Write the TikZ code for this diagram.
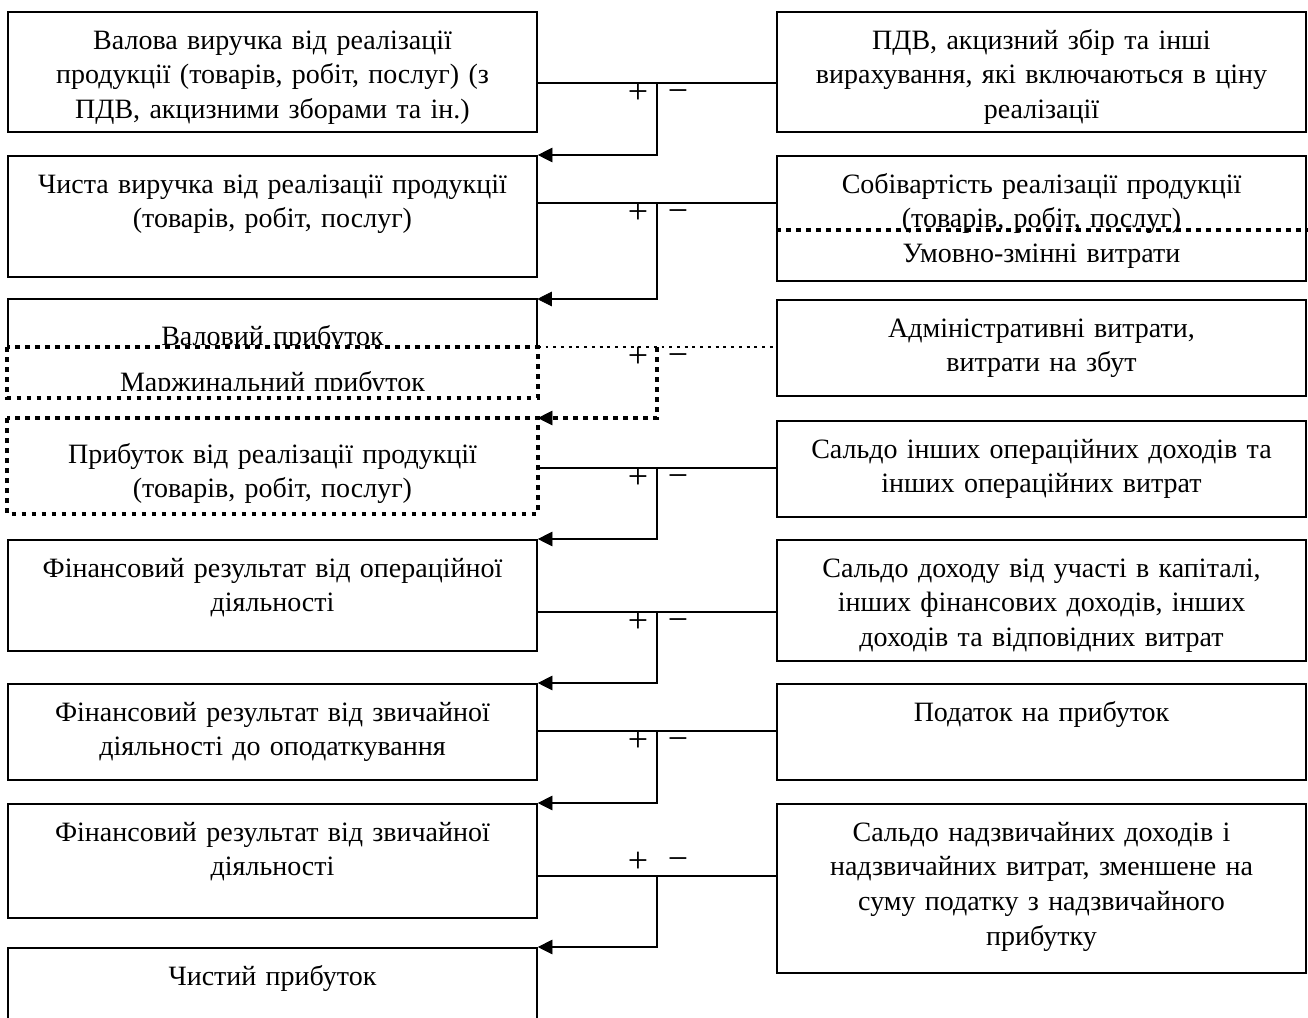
\documentclass[tikz,border=0pt]{standalone}
\usepackage{fontspec}
\setmainfont{Liberation Serif}
\usetikzlibrary{arrows.meta}
\newcommand\fstrut{\rule{0pt}{20pt}}
\begin{document}
\begin{tikzpicture}[x=0.75pt,y=-0.75pt,
  bx/.style={draw, line width=1.2pt, minimum width=396.75pt, inner sep=0pt, anchor=north},
  tx/.style={anchor=north, inner sep=0pt, align=center, text width=396pt, font=\fontsize{21}{26}\selectfont},
  thickdot/.style={line width=3pt, dash pattern=on 3.4pt off 4.1pt},
  finedot/.style={line width=2pt, dash pattern=on 2.2pt off 3.6pt},
  conn/.style={line width=1.2pt},
  arr/.style={-{Triangle[length=11pt,width=11pt,line width=0.6pt]}},
  pm/.style={inner sep=0pt, font=\fontsize{27}{30}\selectfont}]
\useasboundingbox (0,0) rectangle (1308,1017);
\clip (0,0) rectangle (1308,1017);

% ---------- row 1
\node[bx, minimum height=90pt] (L1) at (272.5,11) {};
\node[tx] (L1t) at (272.5,22.3) {\fstrut Валова виручка від реалізації\\продукції (товарів, робіт, послуг) (з\\ПДВ, акцизними зборами та ін.)};
\node[bx, minimum height=90pt] (R1) at (1041.5,11) {};
\node[tx] (R1t) at (1041.5,22.3) {\fstrut ПДВ, акцизний збір та інші\\вирахування, які включаються в ціну\\реалізації};

% ---------- row 2
\node[bx, minimum height=90.75pt] (L2) at (272.5,155) {};
\node[tx] (L2t) at (272.5,166.3) {\fstrut Чиста виручка від реалізації продукції\\(товарів, робіт, послуг)};
\node[bx, minimum height=93.75pt] (R2) at (1041.5,155) {};
\node[tx] (R2t) at (1041.5,166.3) {\fstrut Собівартість реалізації продукції\\(товарів, робіт, послуг)\\Умовно-змінні витрати};
\coordinate (R2end) at (1312,230);
\draw[thickdot] (R2.west |- R2end) -- (R2end);

% ---------- row 3
\node[draw=none, minimum width=396.75pt, minimum height=36pt, inner sep=0pt, anchor=north] (L3) at (272.5,299) {};
\draw[conn] (L3.south west) -- (L3.north west) -- (L3.north east) -- (L3.south east);
\begin{scope}
\clip (8,299) rectangle (537,345);
\node[tx] (L3t) at (272.5,318.3) {\fstrut Валовий прибуток};
\end{scope}
\node[bx, draw=none, fill=white, minimum height=36.75pt] (LM) at (272.5,347) {};
\begin{scope}
\clip (8,347) rectangle (537,390);
\node[tx] (LMt) at (272.5,364.3) {\fstrut Маржинальний прибуток};
\end{scope}
\draw[thickdot] (LM.north west) rectangle (LM.south east);
\node[bx, minimum height=72pt] (R3) at (1041.5,299) {};
\node[tx] (R3t) at (1041.5,310.3) {\fstrut Адміністративні витрати,\\витрати на збут};

% ---------- row 4
\node[bx, draw=none, minimum height=70.5pt] (L4) at (272.5,418) {};
\draw[thickdot] (L4.north west) rectangle (L4.south east);
\node[tx] (L4t) at (272.5,436.3) {\fstrut Прибуток від реалізації продукції\\(товарів, робіт, послуг)};
\node[bx, minimum height=72pt] (R4) at (1041.5,420) {};
\node[tx] (R4t) at (1041.5,431.3) {\fstrut Сальдо інших операційних доходів та\\інших операційних витрат};

% ---------- row 5
\node[bx, minimum height=83.25pt] (L5) at (272.5,539) {};
\node[tx] (L5t) at (272.5,550.3) {\fstrut Фінансовий результат від операційної\\діяльності};
\node[bx, minimum height=90.75pt] (R5) at (1041.5,539) {};
\node[tx] (R5t) at (1041.5,550.3) {\fstrut Сальдо доходу від участі в капіталі,\\інших фінансових доходів, інших\\доходів та відповідних витрат};

% ---------- row 6
\node[bx, minimum height=72pt] (L6) at (272.5,683) {};
\node[tx] (L6t) at (272.5,694.3) {\fstrut Фінансовий результат від звичайної\\діяльності до оподаткування};
\node[bx, minimum height=72pt] (R6) at (1041.5,683) {};
\node[tx] (R6t) at (1041.5,694.3) {\fstrut Податок на прибуток};

% ---------- row 7
\node[bx, minimum height=85.5pt] (L7) at (272.5,803) {};
\node[tx] (L7t) at (272.5,814.3) {\fstrut Фінансовий результат від звичайної\\діяльності};
\node[bx, minimum height=126.75pt] (R7) at (1041.5,803) {};
\node[tx] (R7t) at (1041.5,814.3) {\fstrut Сальдо надзвичайних доходів і\\надзвичайних витрат, зменшене на\\суму податку з надзвичайного\\прибутку};

% ---------- row 8
\node[bx, minimum height=69.75pt] (L8) at (272.5,947) {};
\node[tx] (L8t) at (272.5,958.3) {\fstrut Чистий прибуток};

% ---------- connectors
\coordinate (j1) at (657,83);
\coordinate (j2) at (657,203);
\coordinate (j3) at (657,347);
\coordinate (j4) at (657,468);
\coordinate (j5) at (657,612);
\coordinate (j6) at (657,731);
\coordinate (j7) at (657,876);

\draw[conn] (L1.east |- j1) -- (R1.west |- j1);
\draw[conn,arr] (j1) -- (j1 |- L2.north) -- (L2.north east);
\draw[conn] (L2.east |- j2) -- (R2.west |- j2);
\draw[conn,arr] (j2) -- (j2 |- L3.north) -- (L3.north east);
\draw[finedot] (LM.north east) -- (R3.west |- j3);
\draw[thickdot,arr] (j3) -- (j3 |- L4.north) -- (L4.north east);
\draw[conn] (L4.east |- j4) -- (R4.west |- j4);
\draw[conn,arr] (j4) -- (j4 |- L5.north) -- (L5.north east);
\draw[conn] (L5.east |- j5) -- (R5.west |- j5);
\draw[conn,arr] (j5) -- (j5 |- L6.north) -- (L6.north east);
\draw[conn] (L6.east |- j6) -- (R6.west |- j6);
\draw[conn,arr] (j6) -- (j6 |- L7.north) -- (L7.north east);
\draw[conn] (L7.east |- j7) -- (R7.west |- j7);
\draw[conn,arr] (j7) -- (j7 |- L8.north) -- (L8.north east);

% ---------- signs
\node[pm] (p1) at (638,93) {+};  \node[pm] (m1) at (678,96) {−};
\node[pm] (p2) at (638,213) {+}; \node[pm] (m2) at (678,216) {−};
\node[pm] (p3) at (638,357) {+}; \node[pm] (m3) at (678,360) {−};
\node[pm] (p4) at (638,478) {+}; \node[pm] (m4) at (678,481) {−};
\node[pm] (p5) at (638,622) {+}; \node[pm] (m5) at (678,625) {−};
\node[pm] (p6) at (638,741) {+}; \node[pm] (m6) at (678,744) {−};
\node[pm] (p7) at (638,862) {+}; \node[pm] (m7) at (678,864) {−};
\end{tikzpicture}
\end{document}
